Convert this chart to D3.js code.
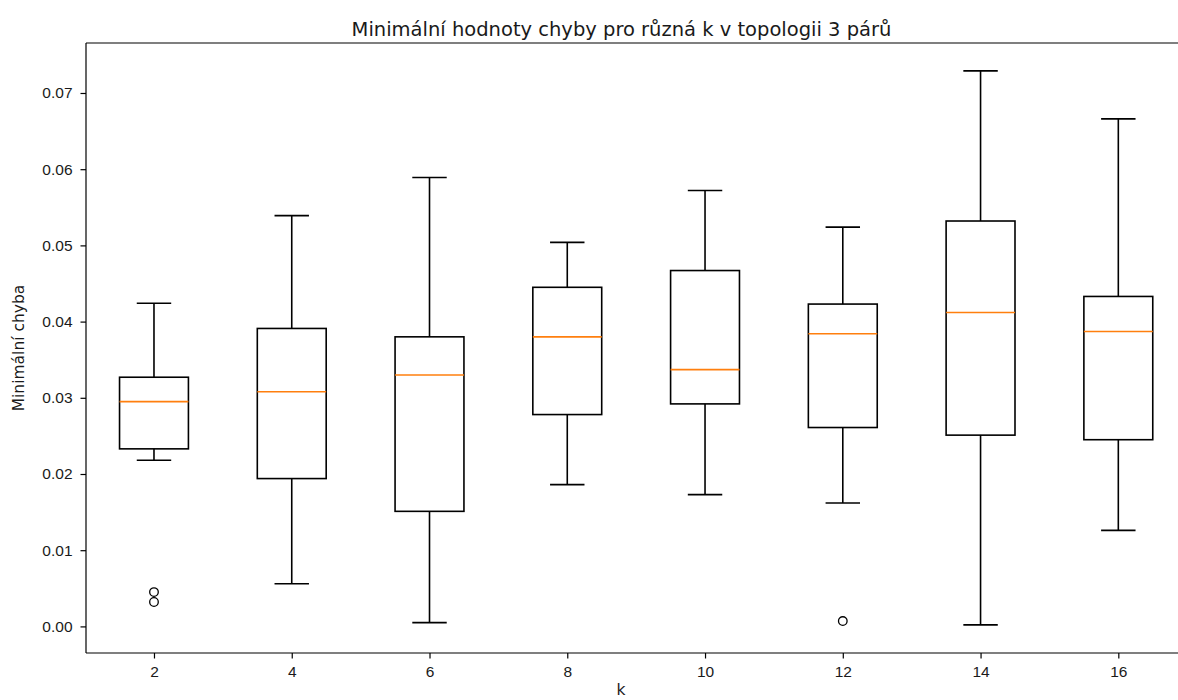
<!DOCTYPE html>
<html>
<head>
<meta charset="utf-8">
<script src="https://cdn.jsdelivr.net/npm/d3@7"></script>
<style>
  body { margin: 0; background: #fff; overflow: hidden; }
  svg { display: block; font-family: "DejaVu Sans", sans-serif; }
</style>
</head>
<body>
<div id="chart"></div>
<script>
// box statistics
const kValues = [2, 4, 6, 8, 10, 12, 14, 16];
const whiskerLow = [0.0218, 0.0056, 0.0005, 0.0186, 0.0173, 0.0162, 0.0002, 0.0126];
const q1 = [0.0233, 0.0194, 0.0151, 0.0278, 0.0292, 0.0261, 0.0251, 0.0245];
const medians = [0.0295, 0.0308, 0.0330, 0.0380, 0.0337, 0.0384, 0.0412, 0.0387];
const q3 = [0.0327, 0.0391, 0.0380, 0.0445, 0.0467, 0.0423, 0.0532, 0.0433];
const whiskerHigh = [0.0424, 0.0539, 0.0589, 0.0504, 0.0572, 0.0524, 0.0729, 0.0666];
const outliers = [[0.0045, 0.0032], [], [], [], [], [0.0007], [], []];
const yTicks = [0, 0.01, 0.02, 0.03, 0.04, 0.05, 0.06, 0.07];

const width = 1178;
const height = 700;
const margin = { left: 86, top: 43, bottom: 653 };

const svg = d3.select('#chart')
  .append('svg')
  .attr('width', width)
  .attr('height', height);

// positions 1..n like matplotlib's boxplot, xlim 0.5 .. n+0.5
const x = d3.scaleLinear()
  .domain([0.5, kValues.length + 0.5])
  .range([85.1, 1187.2]);

const y = d3.scaleLinear()
  .domain([-0.00349, 0.07656])
  .range([margin.bottom, margin.top]);

const boxHalf = (x(1.25) - x(1));
const capHalf = boxHalf / 2;

// axes
const xAxis = d3.axisBottom(x)
  .tickValues(kValues.map((d, i) => i + 1))
  .tickFormat((d, i) => kValues[i])
  .tickSize(5.5)
  .tickPadding(7);

const gx = svg.append('g')
  .attr('transform', `translate(0,${margin.bottom})`)
  .call(xAxis);
gx.select('.domain').remove();

const yAxis = d3.axisLeft(y)
  .tickValues(yTicks)
  .tickFormat(d3.format('.2f'))
  .tickSize(5.5)
  .tickPadding(8);

const gy = svg.append('g')
  .attr('transform', `translate(${margin.left},0)`)
  .call(yAxis);
gy.select('.domain').remove();

svg.selectAll('.tick line').attr('stroke', '#000').attr('stroke-width', 1.2);
svg.selectAll('.tick text')
  .attr('fill', '#1a1a1a')
  .style('font-size', '15.5px');

// spines (the right one falls outside the picture)
const spine = svg.append('g')
  .attr('stroke', '#000')
  .attr('stroke-width', 1.2);
spine.append('line')
  .attr('x1', margin.left).attr('y1', margin.top)
  .attr('x2', margin.left).attr('y2', margin.bottom);
spine.append('line')
  .attr('x1', margin.left).attr('y1', margin.top)
  .attr('x2', width).attr('y2', margin.top);
spine.append('line')
  .attr('x1', margin.left).attr('y1', margin.bottom)
  .attr('x2', width).attr('y2', margin.bottom);

// boxes
const boxes = svg.append('g')
  .selectAll('g')
  .data(kValues)
  .enter()
  .append('g');

boxes.each(function(k, i) {
  const g = d3.select(this);
  const cx = x(i + 1);
  const line = (x1, y1, x2, y2, color) => g.append('line')
    .attr('x1', x1).attr('y1', y1).attr('x2', x2).attr('y2', y2)
    .attr('stroke', color || '#000')
    .attr('stroke-width', 1.6);

  // whiskers
  line(cx, y(q3[i]), cx, y(whiskerHigh[i]));
  line(cx, y(q1[i]), cx, y(whiskerLow[i]));
  // caps
  line(cx - capHalf, y(whiskerHigh[i]), cx + capHalf, y(whiskerHigh[i]));
  line(cx - capHalf, y(whiskerLow[i]), cx + capHalf, y(whiskerLow[i]));

  g.append('rect')
    .attr('x', cx - boxHalf)
    .attr('y', y(q3[i]))
    .attr('width', boxHalf * 2)
    .attr('height', y(q1[i]) - y(q3[i]))
    .attr('fill', 'none')
    .attr('stroke', '#000')
    .attr('stroke-width', 1.6);

  line(cx - boxHalf, y(medians[i]), cx + boxHalf, y(medians[i]), '#ff7f0e');

  g.selectAll('circle')
    .data(outliers[i])
    .enter()
    .append('circle')
    .attr('cx', cx)
    .attr('cy', d => y(d))
    .attr('r', 4.3)
    .attr('fill', 'none')
    .attr('stroke', '#000')
    .attr('stroke-width', 1.3);
});

// labels
svg.append('text')
  .attr('x', 621.5)
  .attr('y', 36)
  .attr('text-anchor', 'middle')
  .attr('fill', '#1a1a1a')
  .style('font-size', '19.5px')
  .text('Minimální hodnoty chyby pro různá k v topologii 3 párů');

svg.append('text')
  .attr('x', 621)
  .attr('y', 695)
  .attr('text-anchor', 'middle')
  .attr('fill', '#1a1a1a')
  .style('font-size', '15.5px')
  .text('k');

svg.append('text')
  .attr('transform', `translate(24,${(margin.top + margin.bottom) / 2}) rotate(-90)`)
  .attr('text-anchor', 'middle')
  .attr('fill', '#1a1a1a')
  .style('font-size', '15.5px')
  .text('Minimální chyba');
</script>
</body>
</html>
